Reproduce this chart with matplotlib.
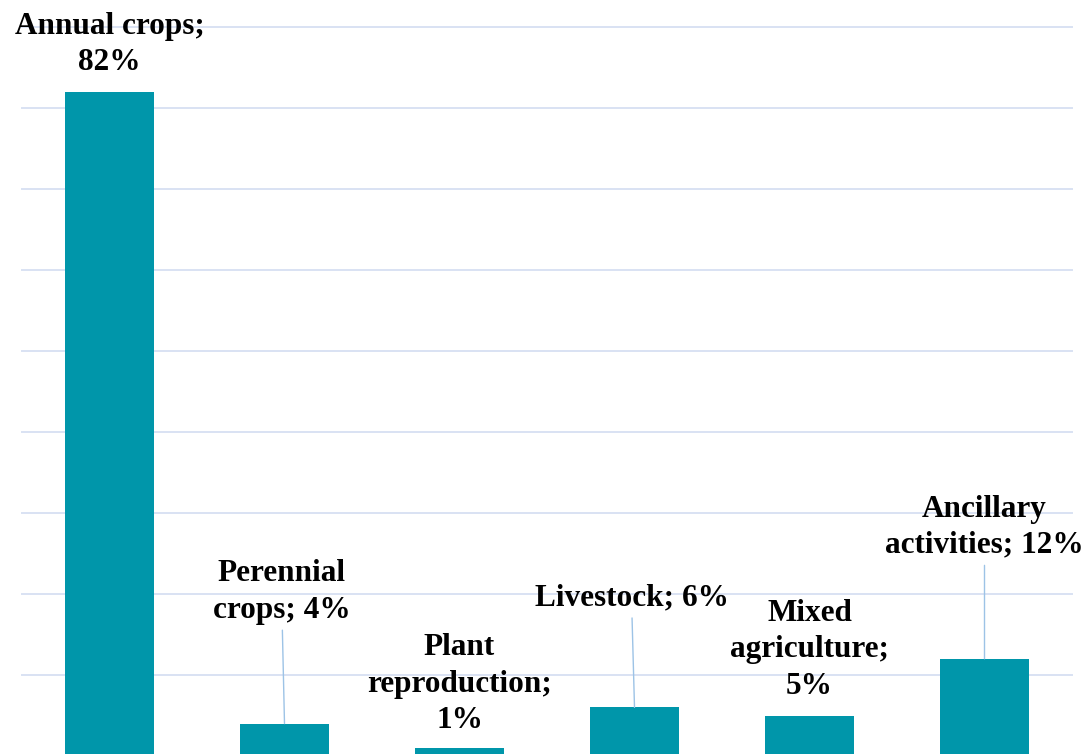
import matplotlib
matplotlib.use("Agg")
import matplotlib.pyplot as plt

categories = ["Annual crops", "Perennial\ncrops", "Plant\nreproduction", "Livestock",
              "Mixed\nagriculture", "Ancillary\nactivities"]
shares = [82, 4, 1, 6, 5, 12]

# label text per bar, and where it sits relative to the bar top (pixels)
label_texts = ["Annual crops;\n82%", "Perennial\ncrops; 4%", "Plant\nreproduction;\n1%",
               "Livestock; 6%", "Mixed\nagriculture;\n5%", "Ancillary\nactivities; 12%"]
label_offsets = [(0, 22), (-3, 106), (0, 20), (-3, 102), (0, 22), (0, 106)]
with_leader = [False, True, False, True, False, True]

bar_color = "#0096AA"
grid_color = "#D9E2F3"
leader_color = "#9DC3E6"

plt.rcParams["font.family"] = ["Liberation Serif", "DejaVu Serif"]

fig = plt.figure(figsize=(10.89, 7.54), dpi=100)
ax = fig.add_axes([22 / 1089, -2 / 754, 1050 / 1089, 729 / 754])

x = range(len(shares))
ax.bar(x, shares, width=0.503, color=bar_color, zorder=2)

ax.set_xlim(-0.5, len(shares) - 0.5)
ax.set_ylim(0, 90)
ax.set_yticks(range(0, 91, 10))
ax.yaxis.grid(True, color=grid_color, linewidth=1.4, zorder=0)
for gl in ax.get_ygridlines():
    gl.set_clip_on(False)
ax.set_axisbelow(True)
ax.tick_params(left=False, bottom=False, labelleft=False, labelbottom=False)
for s in ax.spines.values():
    s.set_visible(False)

for i, (txt, v, off, lead) in enumerate(zip(label_texts, shares, label_offsets, with_leader)):
    kw = {}
    if lead:
        kw["arrowprops"] = dict(arrowstyle="-", color=leader_color, lw=1.0,
                                shrinkA=2, shrinkB=0)
    ax.annotate(txt, xy=(i, v), xytext=off, textcoords="offset pixels",
                ha="center", va="baseline", fontsize=22.5, fontweight="bold",
                linespacing=1.33, color="black", annotation_clip=False, **kw)

fig.savefig("out.png", dpi=100)
